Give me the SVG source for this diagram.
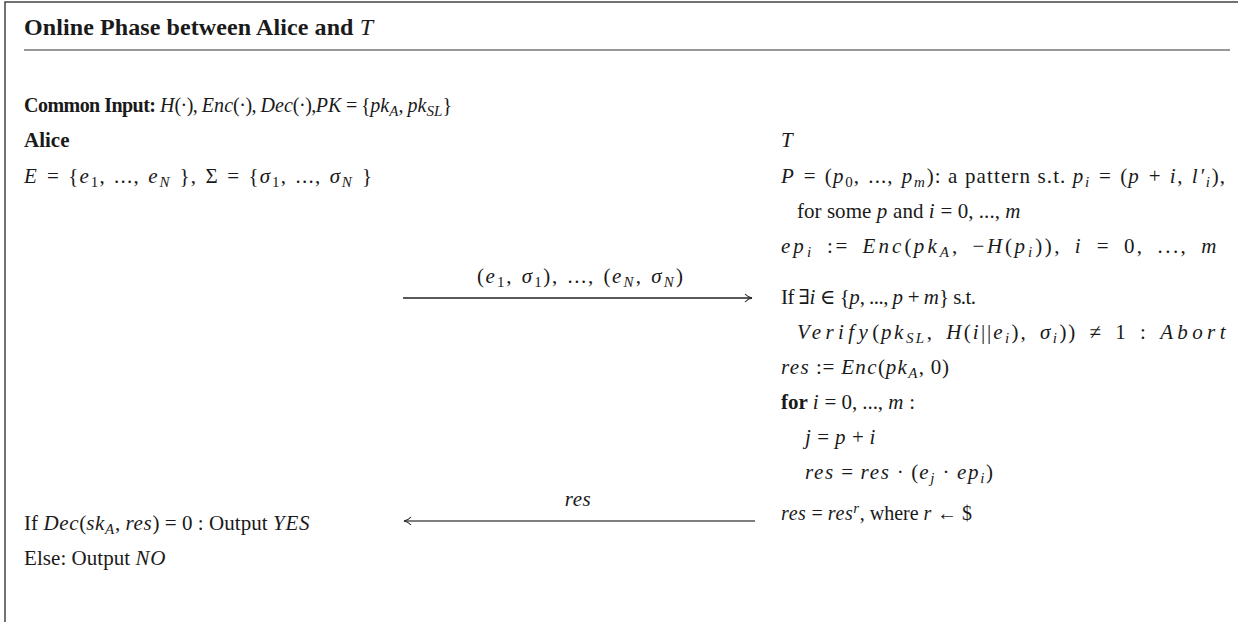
<svg xmlns="http://www.w3.org/2000/svg" width="1238" height="622" viewBox="0 0 1238 622">
<style>
text{font-family:"Liberation Serif","DejaVu Serif",serif;font-size:21px;fill:#1a1a1a}
.i{font-style:italic;letter-spacing:0.6px}
.w{font-style:italic;letter-spacing:2.5px}
.b{font-weight:bold}
.s{font-size:15px}
.c{font-size:20px}
.title{font-size:24px;font-weight:bold}
.frame{stroke:#444;stroke-width:1.5;fill:none}
.rule{stroke:#333;stroke-width:1.2}
.conn{stroke:#222;stroke-width:1.3;fill:none}
.conn2{stroke:#555;stroke-width:1.3;fill:none}
</style>
<defs>
<marker id="ah" viewBox="0 0 10 10" refX="9" refY="5" markerWidth="10" markerHeight="10" markerUnits="userSpaceOnUse" orient="auto">
<path d="M2,1 Q5,4.3 9,5 Q5,5.7 2,9" fill="none" stroke="#222" stroke-width="1.1"/>
</marker>
</defs>
<rect width="1238" height="622" fill="#fff"/>
<path class="frame" d="M1238,2 H5 V622"/>
<g id="header">
<text x="24" y="35" class="title" textLength="349" lengthAdjust="spacing">Online Phase between Alice and <tspan font-style="italic" font-weight="normal">T</tspan></text>
<line class="rule" x1="24" y1="50" x2="1230" y2="50"/>
</g>
<g id="common">
<text x="24" y="112" class="c" textLength="428" lengthAdjust="spacing"><tspan class="b">Common Input:</tspan> <tspan class="i">H</tspan>(·), <tspan class="i">Enc</tspan>(·), <tspan class="i">Dec</tspan>(·),<tspan class="i">PK</tspan> = {<tspan class="i">pk</tspan><tspan class="s i" dy="4">A</tspan><tspan dy="-4">, </tspan><tspan class="i">pk</tspan><tspan class="s i" dy="4">SL</tspan><tspan dy="-4">}</tspan></text>
</g>
<g id="alice">
<text x="24" y="147" class="b">Alice</text>
<text x="24" y="183" textLength="348" lengthAdjust="spacing"><tspan class="i">E</tspan>&#8196;=&#8196;{<tspan class="i">e</tspan><tspan class="s" dy="4">1</tspan><tspan dy="-4">,&#8196;...,&#8196;</tspan><tspan class="i">e</tspan><tspan class="s i" dy="4">N</tspan><tspan dy="-4">&#8196;},&#8196;Σ&#8196;=&#8196;{</tspan><tspan class="i">σ</tspan><tspan class="s" dy="4">1</tspan><tspan dy="-4">,&#8196;...,&#8196;</tspan><tspan class="i">σ</tspan><tspan class="s i" dy="4">N</tspan><tspan dy="-4">&#8196;}</tspan></text>
<text x="24" y="530" textLength="286" lengthAdjust="spacing">If <tspan class="i">Dec</tspan>(<tspan class="i">sk</tspan><tspan class="s i" dy="4">A</tspan><tspan dy="-4">, </tspan><tspan class="i">res</tspan>) = 0 : Output <tspan class="i">YES</tspan></text>
<text x="24" y="565" textLength="142" lengthAdjust="spacing">Else: Output <tspan class="i">NO</tspan></text>
</g>
<g id="t-party">
<text x="781" y="147" class="i">T</text>
<text x="781" y="183" textLength="444" lengthAdjust="spacing"><tspan class="i">P</tspan>&#8196;=&#8196;(<tspan class="i">p</tspan><tspan class="s" dy="4">0</tspan><tspan dy="-4">,&#8196;...,&#8196;</tspan><tspan class="i">p</tspan><tspan class="s i" dy="4">m</tspan><tspan dy="-4">): a pattern s.t. </tspan><tspan class="i">p</tspan><tspan class="s i" dy="4">i</tspan><tspan dy="-4">&#8196;=&#8196;(</tspan><tspan class="i">p</tspan>&#8196;+&#8196;<tspan class="i">i</tspan>,&#8196;<tspan class="i">l′</tspan><tspan class="s i" dy="4">i</tspan><tspan dy="-4">),</tspan></text>
<text x="797" y="218" textLength="224" lengthAdjust="spacing">for some <tspan class="i">p</tspan> and <tspan class="i">i</tspan> = 0, ..., <tspan class="i">m</tspan></text>
<text x="781" y="253" textLength="436" lengthAdjust="spacing"><tspan class="i">ep</tspan><tspan class="s i" dy="4">i</tspan><tspan dy="-4">&#8194;:=&#8194;</tspan><tspan class="i">Enc</tspan>(<tspan class="i">pk</tspan><tspan class="s i" dy="4">A</tspan><tspan dy="-4">,&#8194;−</tspan><tspan class="i">H</tspan>(<tspan class="i">p</tspan><tspan class="s i" dy="4">i</tspan><tspan dy="-4">)),&#8194;</tspan><tspan class="i">i</tspan>&#8194;=&#8194;0,&#8194;...,&#8194;<tspan class="i">m</tspan></text>
<text x="781" y="304" textLength="195" lengthAdjust="spacing">If ∃<tspan class="i">i</tspan> ∈ {<tspan class="i">p</tspan>, ..., <tspan class="i">p</tspan> + <tspan class="i">m</tspan>} s.t.</text>
<text x="797" y="339" textLength="431" lengthAdjust="spacing"><tspan class="w">Verify</tspan>(<tspan class="i">pk</tspan><tspan class="s i" dy="4">SL</tspan><tspan dy="-4">,&#8194;</tspan><tspan class="i">H</tspan>(<tspan class="i">i</tspan>||<tspan class="i">e</tspan><tspan class="s i" dy="4">i</tspan><tspan dy="-4">),&#8194;</tspan><tspan class="i">σ</tspan><tspan class="s i" dy="4">i</tspan><tspan dy="-4">))&#8194;≠&#8194;1&#8194;:&#8194;</tspan><tspan class="w">Abort</tspan></text>
<text x="781" y="374" textLength="168" lengthAdjust="spacing"><tspan class="i">res</tspan> := <tspan class="i">Enc</tspan>(<tspan class="i">pk</tspan><tspan class="s i" dy="4">A</tspan><tspan dy="-4">, 0)</tspan></text>
<text x="781" y="409" textLength="134" lengthAdjust="spacing"><tspan class="b">for</tspan> <tspan class="i">i</tspan> = 0, ..., <tspan class="i">m</tspan> :</text>
<text x="805" y="444" textLength="71" lengthAdjust="spacing"><tspan class="i">j</tspan> = <tspan class="i">p</tspan> + <tspan class="i">i</tspan></text>
<text x="805" y="479" textLength="188" lengthAdjust="spacing"><tspan class="i">res</tspan> = <tspan class="i">res</tspan> · (<tspan class="i">e</tspan><tspan class="s i" dy="4">j</tspan><tspan dy="-4"> · </tspan><tspan class="i">ep</tspan><tspan class="s i" dy="4">i</tspan><tspan dy="-4">)</tspan></text>
<text x="781" y="520" class="c"><tspan class="i">res</tspan> = <tspan class="i">res</tspan><tspan class="s i" dy="-7">r</tspan><tspan dy="7">, where </tspan><tspan class="i">r</tspan> ← $</text>
</g>
<g id="connectors">
<line class="conn" x1="403" y1="298" x2="752" y2="298" marker-end="url(#ah)"/>
<text x="477" y="283" textLength="206" lengthAdjust="spacing">(<tspan class="i">e</tspan><tspan class="s" dy="4">1</tspan><tspan dy="-4">,&#8196;</tspan><tspan class="i">σ</tspan><tspan class="s" dy="4">1</tspan><tspan dy="-4">),&#8196;...,&#8196;(</tspan><tspan class="i">e</tspan><tspan class="s i" dy="4">N</tspan><tspan dy="-4">,&#8196;</tspan><tspan class="i">σ</tspan><tspan class="s i" dy="4">N</tspan><tspan dy="-4">)</tspan></text>
<line class="conn2" x1="755" y1="521" x2="404" y2="521" marker-end="url(#ah)"/>
<text x="578" y="506" text-anchor="middle" class="i">res</text>
</g>
</svg>
